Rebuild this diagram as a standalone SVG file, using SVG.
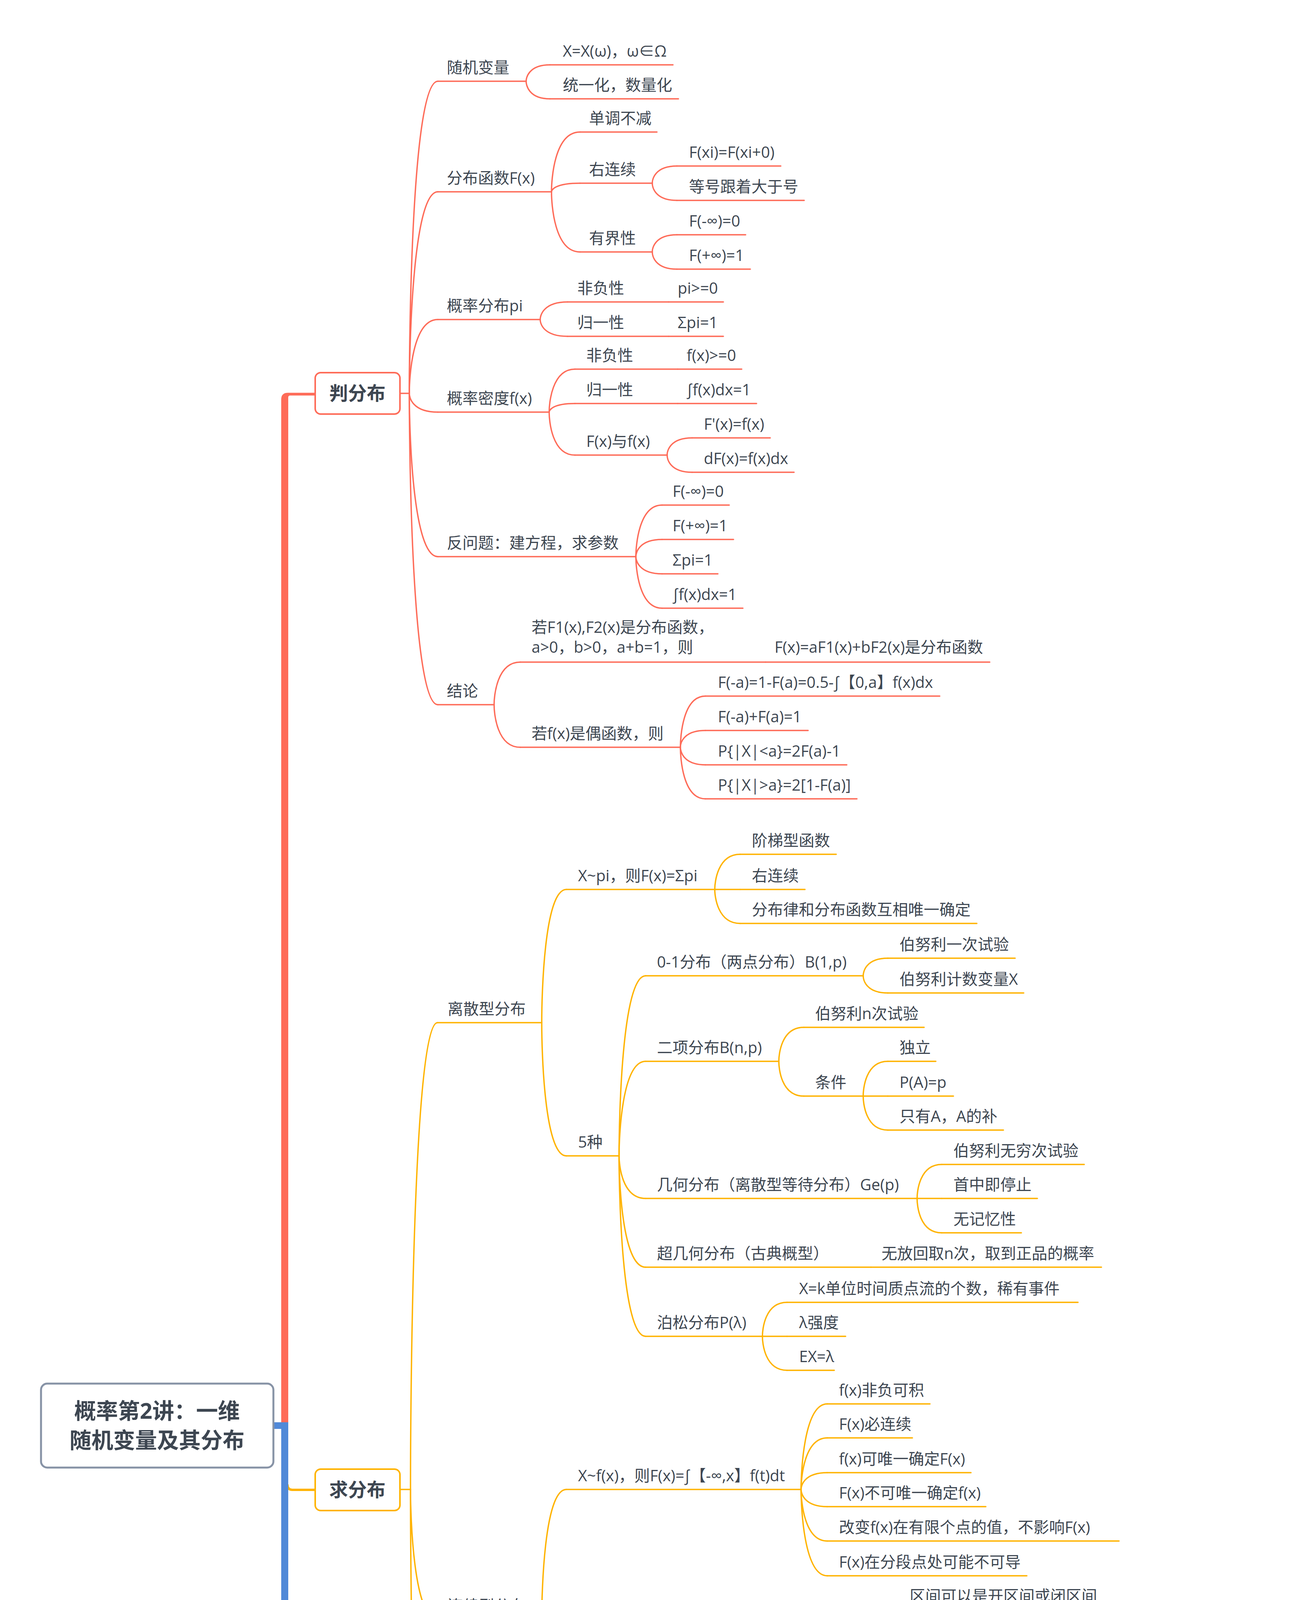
<svg xmlns="http://www.w3.org/2000/svg" width="3354" height="6916" viewBox="0 0 3354 6916">
<style>
.t{font-family:"Open Sans","Noto Sans CJK SC",sans-serif;font-size:40px;fill:#3d4651}
.b{font-family:"Open Sans","Noto Sans CJK SC",sans-serif;font-weight:700;font-size:48px;fill:#3d4651;text-anchor:middle}
.rt{font-family:"Open Sans","Noto Sans CJK SC",sans-serif;font-weight:700;font-size:56px;fill:#3d4651;text-anchor:middle}
.l{fill:none;stroke-width:3.5;stroke-linecap:round}
.R{stroke:#FE6B58}.O{stroke:#FFB300}.G{stroke:#6CC551}.B{stroke:#5089D8}
.box{fill:#fff;stroke-width:4}
</style>
<rect width="3354" height="6916" fill="#fff"/>
<g id="trunks">
<path d="M720 3650 V1022.5 Q720 1005.5 737 1005.5 H806 V1012.5 H743 Q738 1012.5 738 1017.5 V3650 Z" fill="#FE6B58"/>
<path d="M736 3800 Q736 3814 748 3814 H806" fill="none" stroke="#FFB300" stroke-width="6"/>
<path d="M736 5418 Q736 5432 748 5432 H806" fill="none" stroke="#6CC551" stroke-width="6"/>
<path d="M702 3641 H738 V6282 Q738 6287 743 6287 H806 V6294 H737 Q720 6294 720 6277 V3658 H702 Z" fill="#5089D8"/>
</g>
<g id="root">
<rect x="105" y="3542" width="595" height="215" rx="16" fill="#fff" stroke="#8793A6" stroke-width="5"/>
<text class="rt" x="402" y="3632">概率第2讲：一维</text>
<text class="rt" x="402" y="3707">随机变量及其分布</text>
</g>
<g id="connectors" class="l">
<path class="l R" d="M1025 1007 H1048"/>
<path class="l R" d="M1048 1007 C1048 847 1055 208 1121 208"/>
<path class="l R" d="M1048 1007 C1048 904 1055 491 1121 491"/>
<path class="l R" d="M1048 1007 C1048 969 1055 818 1121 818"/>
<path class="l R" d="M1048 1007 C1048 1017 1055 1055 1121 1055"/>
<path class="l R" d="M1048 1007 C1048 1091 1055 1425 1121 1425"/>
<path class="l R" d="M1048 1007 C1048 1166 1055 1804 1121 1804"/>
<path class="l R" d="M1347 208 C1347 200 1353 166 1408 166"/>
<path class="l R" d="M1347 208 C1347 217 1353 253 1408 253"/>
<path class="l R" d="M1412 491 C1412 460 1419 338 1485 338"/>
<path class="l R" d="M1412 491 C1412 487 1419 469 1485 469"/>
<path class="l R" d="M1412 491 C1412 522 1419 645 1485 645"/>
<path class="l R" d="M1670 469 C1670 460 1676 425 1733 425"/>
<path class="l R" d="M1670 469 C1670 478 1676 513 1733 513"/>
<path class="l R" d="M1670 645 C1670 636 1676 601 1733 601"/>
<path class="l R" d="M1670 645 C1670 654 1676 689 1733 689"/>
<path class="l R" d="M1383 818 C1383 809 1390 773 1453 773"/>
<path class="l R" d="M1383 818 C1383 827 1390 861 1453 861"/>
<path class="l R" d="M1406 1055 C1406 1033 1413 945 1472 945"/>
<path class="l R" d="M1406 1055 C1406 1051 1413 1033 1472 1033"/>
<path class="l R" d="M1406 1055 C1406 1077 1413 1165 1472 1165"/>
<path class="l R" d="M1708 1165 C1708 1156 1714 1121 1772 1121"/>
<path class="l R" d="M1708 1165 C1708 1174 1714 1209 1772 1209"/>
<path class="l R" d="M1628 1425 C1628 1399 1635 1293 1695 1293"/>
<path class="l R" d="M1628 1425 C1628 1416 1635 1381 1695 1381"/>
<path class="l R" d="M1628 1425 C1628 1434 1635 1469 1695 1469"/>
<path class="l R" d="M1628 1425 C1628 1451 1635 1557 1695 1557"/>
<path class="l R" d="M1265 1804 C1265 1782 1272 1695 1332 1695"/>
<path class="l R" d="M1265 1804 C1265 1826 1272 1913 1332 1913"/>
<path class="l R" d="M1742 1913 C1742 1887 1748 1782 1806 1782"/>
<path class="l R" d="M1742 1913 C1742 1904 1748 1870 1806 1870"/>
<path class="l R" d="M1742 1913 C1742 1922 1748 1958 1806 1958"/>
<path class="l R" d="M1742 1913 C1742 1939 1748 2045 1806 2045"/>

<path class="l O" d="M1025 3813 H1051"/>
<path class="l O" d="M1051 3813 C1051 3573 1058 2618 1120 2618"/>
<path class="l O" d="M1051 3813 C1051 3879 1058 4146 1120 4146"/>
<path class="l O" d="M1051 3813 C1051 4051 1058 5006 1120 5006"/>
<path class="l O" d="M1387 2618 C1387 2550 1393 2277 1450 2277"/>
<path class="l O" d="M1387 2618 C1387 2686 1393 2959 1450 2959"/>
<path class="l O" d="M1830 2277 C1830 2259 1837 2187 1895 2187"/>
<path class="l O" d="M1830 2277 H1895"/>
<path class="l O" d="M1830 2277 C1830 2294 1837 2364 1895 2364"/>
<path class="l O" d="M1585 2959 C1585 2867 1592 2498 1653 2498"/>
<path class="l O" d="M1585 2959 C1585 2911 1592 2717 1653 2717"/>
<path class="l O" d="M1585 2959 C1585 2981 1592 3068 1653 3068"/>
<path class="l O" d="M1585 2959 C1585 3016 1592 3244 1653 3244"/>
<path class="l O" d="M1585 2959 C1585 3051 1592 3421 1653 3421"/>
<path class="l O" d="M2210 2498 C2210 2489 2216 2453 2273 2453"/>
<path class="l O" d="M2210 2498 C2210 2507 2216 2542 2273 2542"/>
<path class="l O" d="M1994 2717 C1994 2700 2000 2630 2058 2630"/>
<path class="l O" d="M1994 2717 C1994 2735 2000 2806 2058 2806"/>
<path class="l O" d="M2210 2806 C2210 2788 2216 2717 2273 2717"/>
<path class="l O" d="M2210 2806 H2273"/>
<path class="l O" d="M2210 2806 C2210 2823 2216 2893 2273 2893"/>
<path class="l O" d="M2348 3068 C2348 3051 2354 2981 2411 2981"/>
<path class="l O" d="M2348 3068 H2411"/>
<path class="l O" d="M2348 3068 C2348 3086 2354 3156 2411 3156"/>
<path class="l O" d="M1952 3421 C1952 3404 1958 3334 2015 3334"/>
<path class="l O" d="M1952 3421 H2015"/>
<path class="l O" d="M1952 3421 C1952 3438 1958 3508 2015 3508"/>
<path class="l O" d="M1387 4146 C1387 4079 1393 3813 1450 3813"/>
<path class="l O" d="M1387 4146 C1387 4213 1393 4480 1450 4480"/>
<path class="l O" d="M2051 3813 C2051 3769 2058 3594 2118 3594"/>
<path class="l O" d="M2051 3813 C2051 3787 2058 3681 2118 3681"/>
<path class="l O" d="M2051 3813 C2051 3804 2058 3770 2118 3770"/>
<path class="l O" d="M2051 3813 C2051 3822 2058 3857 2118 3857"/>
<path class="l O" d="M2051 3813 C2051 3839 2058 3945 2118 3945"/>
<path class="l O" d="M2051 3813 C2051 3857 2058 4034 2118 4034"/>
<path class="l O" d="M1585 4480 C1585 4422 1592 4191 1653 4191"/>
<path class="l O" d="M1585 4480 H1653"/>
<path class="l O" d="M1585 4480 C1585 4537 1592 4767 1653 4767"/>
<path class="l O" d="M2234 4191 C2234 4177 2241 4121 2299 4121"/>
<path class="l O" d="M2234 4191 C2234 4205 2241 4262 2299 4262"/>
<path class="l O" d="M2311 4480 C2311 4454 2317 4350 2374 4350"/>
<path class="l O" d="M2311 4480 C2311 4471 2317 4437 2374 4437"/>
<path class="l O" d="M2311 4480 C2311 4489 2317 4525 2374 4525"/>
<path class="l O" d="M2311 4480 C2311 4506 2317 4612 2374 4612"/>
<path class="l O" d="M2281 4767 C2281 4754 2287 4701 2345 4701"/>
<path class="l O" d="M2281 4767 C2281 4780 2287 4833 2345 4833"/>
<path class="l O" d="M2767 4833 C2767 4824 2774 4788 2832 4788"/>
<path class="l O" d="M2767 4833 C2767 4842 2774 4876 2832 4876"/>
<path class="l O" d="M1387 5006 C1387 4997 1393 4961 1450 4961"/>
<path class="l O" d="M1387 5006 C1387 5015 1393 5049 1450 5049"/>

<path class="l G" d="M1025 5431 H1053"/>
<path class="l G" d="M1053 5431 C1053 5391 1060 5237 1120 5237"/>
<path class="l G" d="M1053 5431 C1053 5417 1060 5366 1120 5366"/>
<path class="l G" d="M1053 5431 C1053 5434 1060 5450 1120 5450"/>
<path class="l G" d="M1053 5431 C1053 5468 1060 5621 1120 5621"/>
<path class="l G" d="M1300 5237 C1300 5228 1306 5193 1363 5193"/>
<path class="l G" d="M1300 5237 C1300 5246 1306 5282 1363 5282"/>
<path class="l G" d="M1668 5621 C1668 5604 1675 5534 1733 5534"/>
<path class="l G" d="M1668 5621 H1733"/>
<path class="l G" d="M1668 5621 C1668 5639 1675 5710 1733 5710"/>

<path class="l B" d="M1121 6290 H1148"/>
<path class="l B" d="M1148 6290 C1148 6202 1155 5854 1218 5854"/>
<path class="l B" d="M1148 6290 C1148 6278 1155 6235 1218 6235"/>
<path class="l B" d="M1148 6290 C1148 6376 1155 6725 1218 6725"/>
<path class="l B" d="M1803 6235 C1803 6202 1810 6070 1871 6070"/>
<path class="l B" d="M1803 6235 C1803 6268 1810 6399 1871 6399"/>
<path class="l B" d="M2141 6070 C2141 6044 2148 5938 2206 5938"/>
<path class="l B" d="M2141 6070 C2141 6061 2148 6026 2206 6026"/>
<path class="l B" d="M2141 6070 C2141 6079 2148 6114 2206 6114"/>
<path class="l B" d="M2141 6070 C2141 6096 2148 6202 2206 6202"/>
<path class="l B" d="M2060 6399 C2060 6377 2067 6291 2126 6291"/>
<path class="l B" d="M2060 6399 C2060 6395 2067 6378 2126 6378"/>
<path class="l B" d="M2060 6399 C2060 6421 2067 6510 2126 6510"/>
<path class="l B" d="M2642 6510 C2642 6501 2649 6466 2708 6466"/>
<path class="l B" d="M2642 6510 C2642 6519 2649 6553 2708 6553"/>
<path class="l B" d="M1564 6725 C1564 6707 1571 6637 1633 6637"/>
<path class="l B" d="M1564 6725 H1633"/>
<path class="l B" d="M1564 6725 C1564 6742 1571 6812 1633 6812"/>
</g>

<g id="n-pan"><rect class="box" x="807" y="954" width="217" height="106" rx="14" stroke="#FE6B58"/><text class="b" x="915" y="1024">判分布</text></g>
<g id="n-qiu"><rect class="box" x="807" y="3761" width="217" height="106" rx="14" stroke="#FFB300"/><text class="b" x="915" y="3831">求分布</text></g>
<g id="n-yong"><rect class="box" x="807" y="5377" width="217" height="108" rx="14" stroke="#6CC551"/><text class="b" x="915" y="5448">用分布</text></g>
<g id="n-hanshu"><rect class="box" x="807" y="6237" width="313" height="107" rx="14" stroke="#5089D8"/><text class="b" x="963" y="6307">求函数分布</text></g>

<g id="n1"><text class="t" x="1144" y="187">随机变量</text><path class="l R" d="M1121 208 H1347"/></g>
<g id="n2"><text class="t" x="1441" y="145">X=X(ω)，ω∈Ω</text><path class="l R" d="M1408 166 H1723"/></g>
<g id="n3"><text class="t" x="1441" y="232">统一化，数量化</text><path class="l R" d="M1408 253 H1737"/></g>
<g id="n4"><text class="t" x="1144" y="470">分布函数F(x)</text><path class="l R" d="M1121 491 H1412"/></g>
<g id="n5"><text class="t" x="1508" y="317">单调不减</text><path class="l R" d="M1485 338 H1682"/></g>
<g id="n6"><text class="t" x="1508" y="448">右连续</text><path class="l R" d="M1485 469 H1670"/></g>
<g id="n7"><text class="t" x="1764" y="404">F(xi)=F(xi+0)</text><path class="l R" d="M1733 425 H1999"/></g>
<g id="n8"><text class="t" x="1764" y="492">等号跟着大于号</text><path class="l R" d="M1733 513 H2059"/></g>
<g id="n9"><text class="t" x="1508" y="624">有界性</text><path class="l R" d="M1485 645 H1670"/></g>
<g id="n10"><text class="t" x="1764" y="580">F(-∞)=0</text><path class="l R" d="M1733 601 H1909"/></g>
<g id="n11"><text class="t" x="1764" y="668">F(+∞)=1</text><path class="l R" d="M1733 689 H1921"/></g>
<g id="n12"><text class="t" x="1144" y="797">概率分布pi</text><path class="l R" d="M1121 818 H1383"/></g>
<g id="n13"><text class="t" x="1478" y="752">非负性</text><path class="l R" d="M1453 773 H1712"/></g>
<g id="n14"><text class="t" x="1735" y="752">pi&gt;=0</text><path class="l R" d="M1712 773 H1852"/></g>
<g id="n15"><text class="t" x="1478" y="840">归一性</text><path class="l R" d="M1453 861 H1712"/></g>
<g id="n16"><text class="t" x="1735" y="840">Σpi=1</text><path class="l R" d="M1712 861 H1852"/></g>
<g id="n17"><text class="t" x="1144" y="1034">概率密度f(x)</text><path class="l R" d="M1121 1055 H1406"/></g>
<g id="n18"><text class="t" x="1501" y="924">非负性</text><path class="l R" d="M1472 945 H1735"/></g>
<g id="n19"><text class="t" x="1758" y="924">f(x)&gt;=0</text><path class="l R" d="M1735 945 H1899"/></g>
<g id="n20"><text class="t" x="1501" y="1012">归一性</text><path class="l R" d="M1472 1033 H1735"/></g>
<g id="n21"><text class="t" x="1758" y="1012">∫f(x)dx=1</text><path class="l R" d="M1735 1033 H1937"/></g>
<g id="n22"><text class="t" x="1501" y="1144">F(x)与f(x)</text><path class="l R" d="M1472 1165 H1708"/></g>
<g id="n23"><text class="t" x="1802" y="1100">F'(x)=f(x)</text><path class="l R" d="M1772 1121 H1972"/></g>
<g id="n24"><text class="t" x="1802" y="1188">dF(x)=f(x)dx</text><path class="l R" d="M1772 1209 H2033"/></g>
<g id="n25"><text class="t" x="1144" y="1404">反问题：建方程，求参数</text><path class="l R" d="M1121 1425 H1628"/></g>
<g id="n26"><text class="t" x="1722" y="1272">F(-∞)=0</text><path class="l R" d="M1695 1293 H1867"/></g>
<g id="n27"><text class="t" x="1722" y="1360">F(+∞)=1</text><path class="l R" d="M1695 1381 H1878"/></g>
<g id="n28"><text class="t" x="1722" y="1448">Σpi=1</text><path class="l R" d="M1695 1469 H1838"/></g>
<g id="n29"><text class="t" x="1722" y="1536">∫f(x)dx=1</text><path class="l R" d="M1695 1557 H1902"/></g>
<g id="n30"><text class="t" x="1144" y="1783">结论</text><path class="l R" d="M1121 1804 H1265"/></g>
<g id="n31"><text class="t" x="1361" y="1620">若F1(x),F2(x)是分布函数，</text><text class="t" x="1361" y="1671">a&gt;0，b&gt;0，a+b=1，则</text><path class="l R" d="M1332 1695 H1960"/></g>
<g id="n32"><text class="t" x="1983" y="1671">F(x)=aF1(x)+bF2(x)是分布函数</text><path class="l R" d="M1960 1695 H2534"/></g>
<g id="n33"><text class="t" x="1361" y="1892">若f(x)是偶函数，则</text><path class="l R" d="M1332 1913 H1742"/></g>
<g id="n34"><text class="t" x="1838" y="1761">F(-a)=1-F(a)=0.5-∫【0,a】f(x)dx</text><path class="l R" d="M1806 1782 H2406"/></g>
<g id="n35"><text class="t" x="1838" y="1849">F(-a)+F(a)=1</text><path class="l R" d="M1806 1870 H2069"/></g>
<g id="n36"><text class="t" x="1838" y="1937">P{|X|&lt;a}=2F(a)-1</text><path class="l R" d="M1806 1958 H2168"/></g>
<g id="n37"><text class="t" x="1838" y="2024">P{|X|&gt;a}=2[1-F(a)]</text><path class="l R" d="M1806 2045 H2194"/></g>

<g id="n38"><text class="t" x="1146" y="2597">离散型分布</text><path class="l O" d="M1120 2618 H1387"/></g>
<g id="n39"><text class="t" x="1480" y="2256">X~pi，则F(x)=Σpi</text><path class="l O" d="M1450 2277 H1830"/></g>
<g id="n40"><text class="t" x="1925" y="2166">阶梯型函数</text><path class="l O" d="M1895 2187 H2141"/></g>
<g id="n41"><text class="t" x="1925" y="2256">右连续</text><path class="l O" d="M1895 2277 H2061"/></g>
<g id="n42"><text class="t" x="1925" y="2343">分布律和分布函数互相唯一确定</text><path class="l O" d="M1895 2364 H2501"/></g>
<g id="n43"><text class="t" x="1480" y="2938">5种</text><path class="l O" d="M1450 2959 H1585"/></g>
<g id="n44"><text class="t" x="1682" y="2477">0-1分布（两点分布）B(1,p)</text><path class="l O" d="M1653 2498 H2210"/></g>
<g id="n45"><text class="t" x="2303" y="2432">伯努利一次试验</text><path class="l O" d="M2273 2453 H2599"/></g>
<g id="n46"><text class="t" x="2303" y="2521">伯努利计数变量X</text><path class="l O" d="M2273 2542 H2621"/></g>
<g id="n47"><text class="t" x="1682" y="2696">二项分布B(n,p)</text><path class="l O" d="M1653 2717 H1994"/></g>
<g id="n48"><text class="t" x="2087" y="2609">伯努利n次试验</text><path class="l O" d="M2058 2630 H2366"/></g>
<g id="n49"><text class="t" x="2087" y="2785">条件</text><path class="l O" d="M2058 2806 H2210"/></g>
<g id="n50"><text class="t" x="2303" y="2696">独立</text><path class="l O" d="M2273 2717 H2396"/></g>
<g id="n51"><text class="t" x="2303" y="2785">P(A)=p</text><path class="l O" d="M2273 2806 H2441"/></g>
<g id="n52"><text class="t" x="2303" y="2872">只有A，A的补</text><path class="l O" d="M2273 2893 H2569"/></g>
<g id="n53"><text class="t" x="1682" y="3047">几何分布（离散型等待分布）Ge(p)</text><path class="l O" d="M1653 3068 H2348"/></g>
<g id="n54"><text class="t" x="2441" y="2960">伯努利无穷次试验</text><path class="l O" d="M2411 2981 H2776"/></g>
<g id="n55"><text class="t" x="2441" y="3047">首中即停止</text><path class="l O" d="M2411 3068 H2656"/></g>
<g id="n56"><text class="t" x="2441" y="3135">无记忆性</text><path class="l O" d="M2411 3156 H2615"/></g>
<g id="n57"><text class="t" x="1682" y="3223">超几何分布（古典概型）</text><path class="l O" d="M1653 3244 H2230"/></g>
<g id="n58"><text class="t" x="2257" y="3223">无放回取n次，取到正品的概率</text><path class="l O" d="M2230 3244 H2820"/></g>
<g id="n59"><text class="t" x="1682" y="3400">泊松分布P(λ)</text><path class="l O" d="M1653 3421 H1952"/></g>
<g id="n60"><text class="t" x="2046" y="3313">X=k单位时间质点流的个数，稀有事件</text><path class="l O" d="M2015 3334 H2760"/></g>
<g id="n61"><text class="t" x="2046" y="3400">λ强度</text><path class="l O" d="M2015 3421 H2165"/></g>
<g id="n62"><text class="t" x="2046" y="3487">EX=λ</text><path class="l O" d="M2015 3508 H2136"/></g>
<g id="n63"><text class="t" x="1146" y="4125">连续型分布</text><path class="l O" d="M1120 4146 H1387"/></g>
<g id="n64"><text class="t" x="1480" y="3792">X~f(x)，则F(x)=∫【-∞,x】f(t)dt</text><path class="l O" d="M1450 3813 H2051"/></g>
<g id="n65"><text class="t" x="2148" y="3573">f(x)非负可积</text><path class="l O" d="M2118 3594 H2381"/></g>
<g id="n66"><text class="t" x="2148" y="3660">F(x)必连续</text><path class="l O" d="M2118 3681 H2336"/></g>
<g id="n67"><text class="t" x="2148" y="3749">f(x)可唯一确定F(x)</text><path class="l O" d="M2118 3770 H2486"/></g>
<g id="n68"><text class="t" x="2148" y="3836">F(x)不可唯一确定f(x)</text><path class="l O" d="M2118 3857 H2524"/></g>
<g id="n69"><text class="t" x="2148" y="3924">改变f(x)在有限个点的值，不影响F(x)</text><path class="l O" d="M2118 3945 H2865"/></g>
<g id="n70"><text class="t" x="2148" y="4013">F(x)在分段点处可能不可导</text><path class="l O" d="M2118 4034 H2629"/></g>
<g id="n71"><text class="t" x="1480" y="4459">3种</text><path class="l O" d="M1450 4480 H1585"/></g>
<g id="n72"><text class="t" x="1682" y="4170">均匀分布（几何概型）U(a,b)</text><path class="l O" d="M1653 4191 H2234"/></g>
<g id="n73"><text class="t" x="2329" y="4100">区间可以是开区间或闭区间</text><path class="l O" d="M2299 4121 H2821"/></g>
<g id="n74"><text class="t" x="2329" y="4187">X在任意一个子区间取值的概率</text><text class="t" x="2329" y="4238">与该子区间长度成正比</text><path class="l O" d="M2299 4262 H2889"/></g>
<g id="n75"><text class="t" x="1682" y="4459">指数分布（连续型等待分布）E(λ)</text><path class="l O" d="M1653 4480 H2311"/></g>
<g id="n76"><text class="t" x="2405" y="4329">X=x时间（寿命）</text><path class="l O" d="M2374 4350 H2729"/></g>
<g id="n77"><text class="t" x="2405" y="4416">λ失效率</text><path class="l O" d="M2374 4437 H2561"/></g>
<g id="n78"><text class="t" x="2405" y="4504">EX=1/λ</text><path class="l O" d="M2374 4525 H2549"/></g>
<g id="n79"><text class="t" x="2405" y="4591">无记忆性</text><path class="l O" d="M2374 4612 H2579"/></g>
<g id="n80"><text class="t" x="1682" y="4746">正态分布（高斯分布）N(μ,σ^2)</text><path class="l O" d="M1653 4767 H2281"/></g>
<g id="n81"><text class="t" x="2377" y="4680">E(X)=μ，D(X)=σ^2</text><path class="l O" d="M2345 4701 H2716"/></g>
<g id="n82"><text class="t" x="2377" y="4812">标准正态分布N(0,1)</text><path class="l O" d="M2345 4833 H2767"/></g>
<g id="n83"><text class="t" x="2862" y="4767">E(X)=0，D(X)=1</text><path class="l O" d="M2832 4788 H3154"/></g>
<g id="n84"><text class="t" x="2862" y="4855">标准化(X-μ)/σ~N(0,1)</text><path class="l O" d="M2832 4876 H3252"/></g>
<g id="n85"><text class="t" x="1146" y="4985">混合型分布</text><path class="l O" d="M1120 5006 H1387"/></g>
<g id="n86"><text class="t" x="1480" y="4940">F(x)=P{X&lt;=x}</text><path class="l O" d="M1450 4961 H1731"/></g>
<g id="n87"><text class="t" x="1480" y="5028">全集分解公式P{X&lt;=x}=P{X&lt;=x,Ω}</text><path class="l O" d="M1450 5049 H2091"/></g>

<g id="n88"><text class="t" x="1146" y="5216">X~F(x)</text><path class="l G" d="M1120 5237 H1300"/></g>
<g id="n89"><text class="t" x="1393" y="5172">P{X&lt;=a}=F(a)</text><path class="l G" d="M1363 5193 H1740"/></g>
<g id="n90"><text class="t" x="1766" y="5172">带等号取函数值</text><path class="l G" d="M1740 5193 H2061"/></g>
<g id="n91"><text class="t" x="1393" y="5261">P{X&lt;a}=F(a-0)</text><path class="l G" d="M1363 5282 H1750"/></g>
<g id="n92"><text class="t" x="1776" y="5261">不带等号取左极限</text><path class="l G" d="M1750 5282 H2111"/></g>
<g id="n93"><text class="t" x="1146" y="5345">X~pi</text><path class="l G" d="M1120 5366 H1340"/></g>
<g id="n94"><text class="t" x="1363" y="5345">P{X∈I}=ΣP{X=xi}</text><path class="l G" d="M1340 5366 H1685"/></g>
<g id="n95"><text class="t" x="1146" y="5429">X~f(x)</text><path class="l G" d="M1120 5450 H1360"/></g>
<g id="n96"><text class="t" x="1387" y="5429">P{X∈I}=∫f(x)dx</text><path class="l G" d="M1360 5450 H1676"/></g>
<g id="n97"><text class="t" x="1146" y="5600">反问题：已知概率，求参数</text><path class="l G" d="M1120 5621 H1668"/></g>
<g id="n98"><text class="t" x="1763" y="5513">算积分</text><path class="l G" d="M1733 5534 H1896"/></g>
<g id="n99"><text class="t" x="1763" y="5600">看模型</text><path class="l G" d="M1733 5621 H1995"/></g>
<g id="n100"><text class="t" x="2018" y="5600">8个分布</text><path class="l G" d="M1995 5621 H2176"/></g>
<g id="n101"><text class="t" x="1763" y="5689">用图形</text><path class="l G" d="M1733 5710 H1896"/></g>

<g id="n102"><text class="t" x="1242" y="5833">离散型→离散型</text><path class="l B" d="M1218 5854 H1536"/></g>
<g id="n103"><text class="t" x="1242" y="6214">连续型→连续型（或混合型）</text><path class="l B" d="M1218 6235 H1803"/></g>
<g id="n104"><text class="t" x="1898" y="6049">分布函数法</text><path class="l B" d="M1871 6070 H2141"/></g>
<g id="n105"><text class="t" x="2234" y="5917">F(y)=P{Y&lt;=y}=P{g(X)&lt;=y}=∫【g(x)&lt;=y】f(x)dx</text><path class="l B" d="M2206 5938 H3067"/></g>
<g id="n106"><text class="t" x="2234" y="6005">g(X)&lt;=y：曲线Y=g(X)在直线Y=y下方</text><path class="l B" d="M2206 6026 H2923"/></g>
<g id="n107"><text class="t" x="2234" y="6093">画图，分段讨论</text><path class="l B" d="M2206 6114 H2528"/></g>
<g id="n108"><text class="t" x="2234" y="6181">f(y)=F'(y)</text><path class="l B" d="M2206 6202 H2404"/></g>
<g id="n109"><text class="t" x="1898" y="6378">公式法</text><path class="l B" d="M1871 6399 H2060"/></g>
<g id="n110"><text class="t" x="2153" y="6270">条件：y=g(x)严格单调，且可导</text><path class="l B" d="M2126 6291 H2719"/></g>
<g id="n111"><text class="t" x="2153" y="6357">y=g(x)的可导反函数是x=h(y)</text><path class="l B" d="M2126 6378 H2671"/></g>
<g id="n112"><text class="t" x="2153" y="6489">f(y)=f[h(y)]·|h'(y)|,α&lt;y&lt;β</text><path class="l B" d="M2126 6510 H2642"/></g>
<g id="n113"><text class="t" x="2737" y="6445">α=min{g(a),g(b)}</text><path class="l B" d="M2708 6466 H3049"/></g>
<g id="n114"><text class="t" x="2737" y="6532">β=max{g(a),g(b)}</text><path class="l B" d="M2708 6553 H3060"/></g>
<g id="n115"><text class="t" x="1242" y="6704">连续型→离散型</text><path class="l B" d="M1218 6725 H1564"/></g>
<g id="n116"><text class="t" x="1657" y="6616">先确定Y的可能取值ai</text><path class="l B" d="M1633 6637 H2049"/></g>
<g id="n117"><text class="t" x="1657" y="6704">再计算概率P{Y=ai}</text><path class="l B" d="M1633 6725 H2007"/></g>
<g id="n118"><text class="t" x="1657" y="6791">写出Y的概率分布</text><path class="l B" d="M1633 6812 H1977"/></g>
</svg>
